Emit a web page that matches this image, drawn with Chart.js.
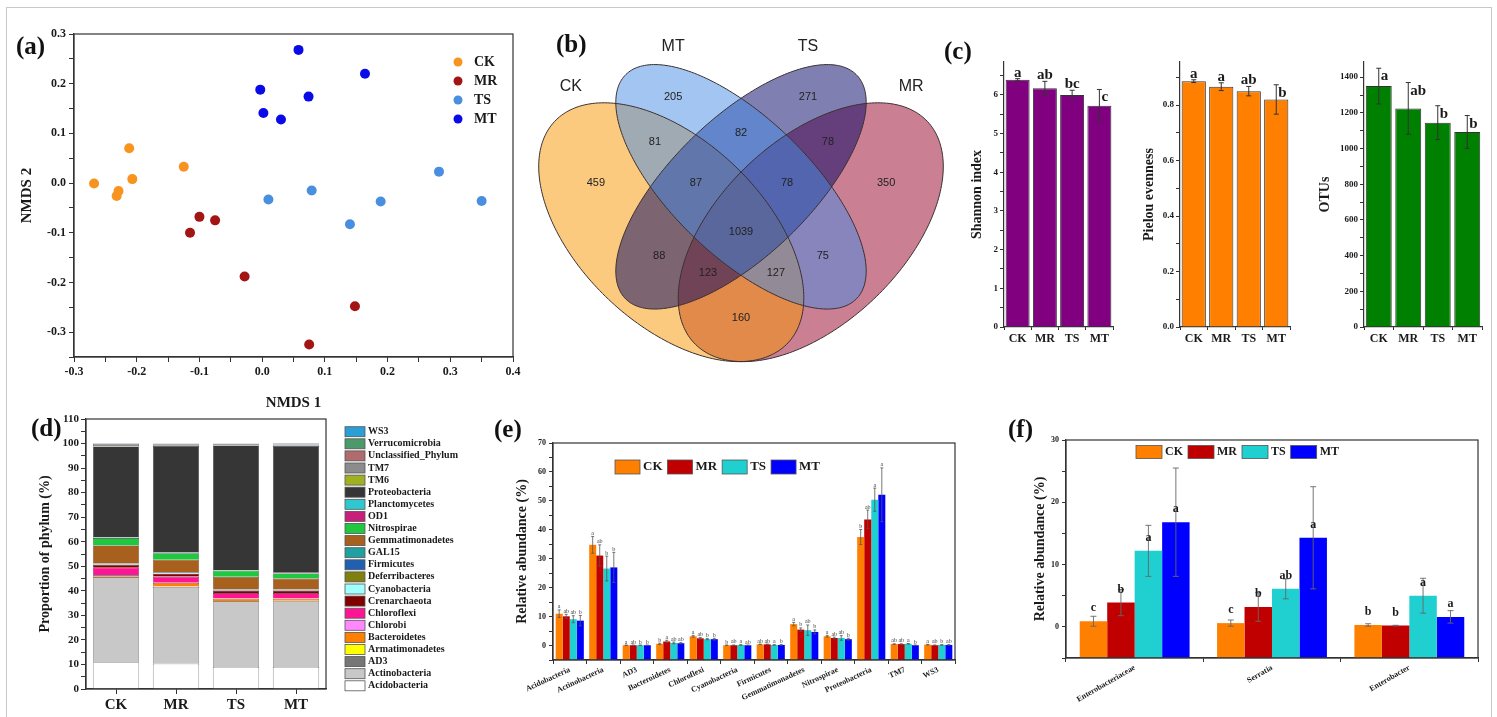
<!DOCTYPE html>
<html>
<head>
<meta charset="utf-8">
<title>Bacterial community figure</title>
<script src="https://cdn.jsdelivr.net/npm/chart.js@4.4.1/dist/chart.umd.min.js"></script>
<style>
  body { margin: 0; background: #fff; }
  #page { position: relative; width: 1497px; height: 717px; overflow: hidden; background: #fff; }
  #page canvas { position: absolute; }
  .tag { position: absolute; font: bold 25px "Liberation Serif", serif; color: #111; line-height: 1; }
  #border { position: absolute; left: 6px; top: 7px; width: 1484px; height: 720px; border: 1px solid #c8c8c8; }
</style>
</head>
<body>
<div id="page">
  <div id="border"></div>
  <canvas id="nmds" width="520" height="400" style="left:10px;top:20px"></canvas>
  <canvas id="venn" width="440" height="355" style="left:520px;top:25px"></canvas>
  <canvas id="shannon" width="160" height="310" style="left:960px;top:40px"></canvas>
  <canvas id="pielou" width="170" height="310" style="left:1130px;top:40px"></canvas>
  <canvas id="otus" width="180" height="310" style="left:1310px;top:40px"></canvas>
  <canvas id="phylum" width="440" height="305" style="left:30px;top:405px"></canvas>
  <canvas id="abund" width="460" height="280" style="left:505px;top:430px"></canvas>
  <canvas id="genus" width="465" height="280" style="left:1020px;top:430px"></canvas>
  <div class="tag" style="left:16px;top:33px">(a)</div>
  <div class="tag" style="left:556px;top:31px">(b)</div>
  <div class="tag" style="left:944px;top:38px">(c)</div>
  <div class="tag" style="left:31px;top:415px">(d)</div>
  <div class="tag" style="left:494px;top:416px">(e)</div>
  <div class="tag" style="left:1008px;top:416px">(f)</div>
</div>

<script>
// ---------- data ----------
var groups = ['CK', 'MR', 'TS', 'MT'];
var groupColors = ['#FF8000', '#C00000', '#20D0D0', '#0000FF'];

// (a) NMDS ordination
var ckX = [-0.268, -0.232, -0.229, -0.212, -0.207, -0.125];
var ckY = [-0.001, -0.026, -0.016, 0.070, 0.008, 0.033];
var mrX = [-0.115, -0.100, -0.075, -0.028, 0.148, 0.075];
var mrY = [-0.100, -0.068, -0.075, -0.188, -0.248, -0.325];
var tsX = [0.010, 0.079, 0.140, 0.189, 0.282, 0.350];
var tsY = [-0.033, -0.015, -0.083, -0.037, 0.023, -0.036];
var mtX = [-0.003, 0.002, 0.030, 0.058, 0.074, 0.164];
var mtY = [0.188, 0.141, 0.128, 0.268, 0.174, 0.220];

// (b) Venn diagram of OTUs
var vennSets = ['CK', 'MT', 'TS', 'MR'];
var vennCounts = [205, 271, 81, 82, 78, 459, 87, 78, 350, 1039, 88, 75, 123, 127, 160];

// (c) alpha diversity
var shannon = [6.39, 6.17, 6.00, 5.72];
var shannonErr = [0.03, 0.18, 0.12, 0.42];
var shannonLet = ['a', 'ab', 'bc', 'c'];
var pielou = [0.886, 0.866, 0.850, 0.820];
var pielouErr = [0.005, 0.014, 0.017, 0.053];
var pielouLet = ['a', 'a', 'ab', 'b'];
var otus = [1350, 1225, 1145, 1093];
var otusErr = [100, 145, 95, 92];
var otusLet = ['a', 'ab', 'b', 'b'];

// (d) phylum composition (%)
var phylumNames = ['Acidobacteria', 'Actinobacteria', 'AD3', 'Armatimonadetes', 'Bacteroidetes', 'Chlorobi',
  'Chloroflexi', 'Crenarchaeota', 'Cyanobacteria', 'Deferribacteres', 'Firmicutes', 'GAL15',
  'Gemmatimonadetes', 'Nitrospirae', 'OD1', 'Planctomycetes', 'Proteobacteria', 'TM6', 'TM7',
  'Unclassified_Phylum', 'Verrucomicrobia', 'WS3'];
var phylumCK = [10.8, 34.7, 0.1, 0.1, 0.6, 0.1, 3.0, 1.2, 0.1, 0.1, 0.3, 0.1, 7.3, 3.0, 0.1, 0.2, 37.0, 0.1, 0.5, 0.3, 0.1, 0.2];
var phylumMR = [10.3, 31.3, 0.1, 0.1, 1.4, 0.1, 2.5, 1.2, 0.1, 0.1, 0.4, 0.1, 5.0, 2.6, 0.1, 0.2, 43.4, 0.1, 0.5, 0.2, 0.1, 0.1];
var phylumTS = [9.0, 26.7, 0.1, 0.1, 0.9, 0.1, 2.2, 1.0, 0.2, 0.1, 0.2, 0.1, 5.0, 2.5, 0.1, 0.2, 50.7, 0.1, 0.4, 0.1, 0.1, 0.1];
var phylumMT = [9.0, 26.8, 0.1, 0.1, 0.8, 0.1, 2.2, 1.0, 0.1, 0.1, 0.2, 0.1, 4.4, 2.1, 0.1, 0.2, 51.6, 0.1, 0.1, 0.3, 0.1, 0.4];
var phylumColors = ['#FFFFFF', '#C8C8C8', '#767676', '#FFFF00', '#FF8000', '#FF88FF',
  '#FF1493', '#800000', '#A0FFFF', '#808010', '#2060B0', '#20A0A0',
  '#A8601E', '#20C840', '#C8207A', '#30C8D0', '#363636', '#A0B020', '#8C8C8C',
  '#B06C6C', '#4C9A6A', '#2A9FD6'];

// (e) dominant phyla, relative abundance (%)
var phyla = ['Acidobacteria', 'Actinobacteria', 'AD3', 'Bacteroidetes', 'Chloroflexi', 'Cyanobacteria',
  'Firmicutes', 'Gemmatimonadetes', 'Nitrospirae', 'Proteobacteria', 'TM7', 'WS3'];
var ckAbund = [11.0, 34.8, 0.1, 0.6, 3.2, 0.1, 0.4, 7.4, 3.2, 37.5, 0.5, 0.3];
var mrAbund = [10.1, 31.1, 0.1, 1.4, 2.5, 0.1, 0.4, 5.5, 2.6, 43.6, 0.5, 0.1];
var tsAbund = [9.1, 26.6, 0.1, 0.9, 2.2, 0.2, 0.2, 5.3, 2.6, 50.4, 0.6, 0.2];
var mtAbund = [8.6, 27.0, 0.1, 0.8, 2.2, 0.1, 0.2, 4.7, 2.2, 52.1, 0.1, 0.2];
var ckAbundErr = [1.3, 2.9, 0.05, 0.2, 0.3, 0.05, 0.1, 0.6, 0.3, 2.6, 0.1, 0.1];
var mrAbundErr = [0.7, 3.7, 0.05, 0.4, 0.3, 0.1, 0.1, 0.6, 0.3, 3.2, 0.1, 0.1];
var tsAbundErr = [1.2, 4.3, 0.05, 0.3, 0.2, 0.1, 0.1, 1.8, 0.8, 4.0, 0.1, 0.1];
var mtAbundErr = [1.8, 5.2, 0.05, 0.2, 0.3, 0.05, 0.1, 0.7, 0.3, 9.3, 0.05, 0.1];
var ckAbundLet = ['a', 'a', 'a', 'b', 'a', 'b', 'ab', 'a', 'a', 'b', 'ab', 'a'];
var mrAbundLet = ['ab', 'ab', 'ab', 'a', 'ab', 'ab', 'ab', 'b', 'ab', 'ab', 'ab', 'ab'];
var tsAbundLet = ['ab', 'b', 'b', 'ab', 'b', 'a', 'a', 'ab', 'ab', 'a', 'a', 'b'];
var mtAbundLet = ['b', 'b', 'b', 'ab', 'b', 'ab', 'b', 'b', 'b', 'a', 'b', 'ab'];

// (f) genera, relative abundance (%)
var genera = ['Enterobacteriaceae', 'Serratia', 'Enterobacter'];
var ckGen = [0.9, 0.6, 0.3];
var mrGen = [3.9, 3.2, 0.2];
var tsGen = [12.2, 6.1, 5.0];
var mtGen = [16.8, 14.3, 1.6];
var ckGenErr = [0.8, 0.5, 0.2];
var mrGenErr = [2.1, 2.3, 0.05];
var tsGenErr = [4.1, 1.6, 2.8];
var mtGenErr = [8.7, 8.2, 1.0];
var ckGenLet = ['c', 'c', 'b'];
var mrGenLet = ['b', 'b', 'b'];
var tsGenLet = ['a', 'ab', 'a'];
var mtGenLet = ['a', 'a', 'a'];

// ---------- venn layout (unit square, y up) ----------
var vennShapes = [
  { cx: 0.65, cy: 0.47, a: 0.35, b: 0.20, rot: 45,  fill: 'rgba(150,0,40,0.5)' },   // MR
  { cx: 0.35, cy: 0.47, a: 0.35, b: 0.20, rot: 135, fill: 'rgba(250,150,0,0.5)' },  // CK
  { cx: 0.50, cy: 0.57, a: 0.35, b: 0.15, rot: 45,  fill: 'rgba(0,0,100,0.5)' },    // TS
  { cx: 0.50, cy: 0.57, a: 0.35, b: 0.15, rot: 135, fill: 'rgba(70,140,230,0.5)' }  // MT
];
var vennSpots = [[0.354, 0.768], [0.644, 0.768], [0.315, 0.668], [0.5, 0.688], [0.687, 0.668],
  [0.188, 0.578], [0.403, 0.578], [0.599, 0.578], [0.812, 0.578], [0.5, 0.470],
  [0.324, 0.417], [0.676, 0.417], [0.429, 0.380], [0.575, 0.380], [0.5, 0.281]];
var vennSetSpots = [[0.134, 0.790], [0.354, 0.878], [0.644, 0.878], [0.866, 0.790]];

// ---------- chart defaults ----------
var serif = '"Liberation Serif", "Times New Roman", serif';
Chart.defaults.font.family = serif;
Chart.defaults.font.weight = 'bold';
Chart.defaults.color = '#1a1a1a';
Chart.defaults.animation = false;
Chart.defaults.events = [];
Chart.defaults.plugins.legend.display = false;
Chart.defaults.plugins.tooltip.enabled = false;

// box round the plot area (Origin style)
var framePlugin = {
  id: 'frame',
  afterDraw: function (chart, args, o) {
    if (!o.show) return;
    var a = chart.chartArea, c = chart.ctx;
    c.save();
    c.strokeStyle = '#333';
    c.lineWidth = 1.2;
    c.strokeRect(a.left, a.top, a.right - a.left, a.bottom - a.top);
    c.restore();
  }
};

// legend drawn inside / beside the plot
var keyPlugin = {
  id: 'key',
  afterDraw: function (chart, args, o) {
    if (!o.show) return;
    var c = chart.ctx, a = chart.chartArea;
    var sets = chart.data.datasets.slice();
    if (o.reverse) sets.reverse();
    var x = a.left + o.x, y = a.top + o.y;
    c.save();
    c.font = o.font;
    c.textBaseline = 'middle';
    c.textAlign = 'left';
    sets.forEach(function (ds) {
      if (o.style === 'dot') {
        c.beginPath();
        c.arc(x, y, o.r, 0, Math.PI * 2);
        c.fillStyle = ds.backgroundColor;
        c.fill();
        c.fillStyle = '#1a1a1a';
        c.fillText(ds.label, x + o.gap, y);
        y += o.step;
      } else {
        c.fillStyle = ds.backgroundColor;
        c.fillRect(x, y - o.h / 2, o.w, o.h);
        c.strokeStyle = '#555';
        c.lineWidth = 0.8;
        c.strokeRect(x, y - o.h / 2, o.w, o.h);
        c.fillStyle = '#1a1a1a';
        c.fillText(ds.label, x + o.w + o.gap, y);
        if (o.vertical) y += o.step;
        else x += o.w + o.gap + c.measureText(ds.label).width + o.space;
      }
    });
    c.restore();
  }
};

// error bars and significance letters
var errPlugin = {
  id: 'errs',
  afterDatasetsDraw: function (chart, args, o) {
    if (!o.show) return;
    var c = chart.ctx, ys = chart.scales.y;
    c.save();
    chart.data.datasets.forEach(function (ds, di) {
      if (!ds.errors) return;
      var meta = chart.getDatasetMeta(di);
      meta.data.forEach(function (bar, i) {
        var v = ds.data[i], e = ds.errors[i];
        var top = ys.getPixelForValue(v + e), bot = ys.getPixelForValue(v - e);
        var barTop = ys.getPixelForValue(v);
        c.strokeStyle = o.color;
        c.lineWidth = o.width;
        c.beginPath();
        c.moveTo(bar.x, top); c.lineTo(bar.x, bot);
        c.moveTo(bar.x - o.cap, top); c.lineTo(bar.x + o.cap, top);
        c.moveTo(bar.x - o.cap, bot); c.lineTo(bar.x + o.cap, bot);
        c.stroke();
        if (!ds.letters) return;
        c.font = o.font;
        c.fillStyle = o.letterColor || '#1a1a1a';
        c.textBaseline = 'alphabetic';
        if (o.from === 'bar') {
          c.textAlign = 'center';
          c.fillText(ds.letters[i], bar.x, barTop - o.dy);
        } else if (o.side && barTop - top > 12) {
          c.textAlign = 'left';
          c.fillText(ds.letters[i], bar.x + 2, top + 12);
        } else {
          c.textAlign = 'center';
          c.fillText(ds.letters[i], bar.x, top - o.dy);
        }
      });
    });
    c.restore();
  }
};

// ellipses of the venn diagram and the counts
var vennPlugin = {
  id: 'venn',
  beforeDatasetsDraw: function (chart, args, o) {
    if (!o.shapes) return;
    var c = chart.ctx, xs = chart.scales.x, ys = chart.scales.y;
    function path(e) {
      var r = e.rot * Math.PI / 180;
      c.beginPath();
      for (var k = 0; k <= 240; k++) {
        var t = k / 240 * Math.PI * 2;
        var ux = e.cx + e.a * Math.cos(t) * Math.cos(r) - e.b * Math.sin(t) * Math.sin(r);
        var uy = e.cy + e.a * Math.cos(t) * Math.sin(r) + e.b * Math.sin(t) * Math.cos(r);
        var px = xs.getPixelForValue(ux), py = ys.getPixelForValue(uy);
        if (k === 0) c.moveTo(px, py); else c.lineTo(px, py);
      }
      c.closePath();
    }
    c.save();
    o.shapes.forEach(function (e) { path(e); c.fillStyle = e.fill; c.fill(); });
    c.strokeStyle = '#3a3030';
    c.lineWidth = 1;
    o.shapes.forEach(function (e) { path(e); c.stroke(); });
    c.restore();
  },
  afterDatasetsDraw: function (chart, args, o) {
    if (!o.shapes) return;
    var c = chart.ctx;
    c.save();
    c.textAlign = 'center';
    c.textBaseline = 'middle';
    c.fillStyle = '#222';
    chart.data.datasets.forEach(function (ds, di) {
      c.font = ds.textFont;
      chart.getDatasetMeta(di).data.forEach(function (pt, i) {
        c.fillText(String(ds.texts[i]), pt.x, pt.y);
      });
    });
    c.restore();
  }
};

Chart.register(framePlugin, keyPlugin, errPlugin, vennPlugin);

function sideAxis(space, size, min, max, step, labelFn, title, titleSize, titlePad, tickLen, tickPad) {
  return {
    type: 'linear', position: 'left', min: min, max: max,
    grid: { drawOnChartArea: false, tickLength: tickLen, color: '#333', tickColor: '#333' },
    border: { display: true, color: '#333', width: 1.2 },
    ticks: { stepSize: step, includeBounds: false, autoSkip: false, font: { size: size }, padding: tickPad, callback: labelFn },
    title: { display: !!title, text: title, font: { size: titleSize }, padding: { top: titlePad, bottom: 0 } },
    afterFit: function (s) { s.width = space; }
  };
}

function multipleOf(step, digits) {
  return function (v) {
    var k = v / step;
    return Math.abs(k - Math.round(k)) < 1e-6 && v >= -1e-9 ? v.toFixed(digits) : '';
  };
}

// ---------- (a) NMDS ----------
function pts(xs, ys) { return xs.map(function (x, i) { return { x: x, y: ys[i] }; }); }
new Chart(document.getElementById('nmds'), {
  type: 'scatter',
  data: {
    datasets: [
      { label: 'CK', data: pts(ckX, ckY), backgroundColor: '#F7931E' },
      { label: 'MR', data: pts(mrX, mrY), backgroundColor: '#A31515' },
      { label: 'TS', data: pts(tsX, tsY), backgroundColor: '#4A8FDF' },
      { label: 'MT', data: pts(mtX, mtY), backgroundColor: '#0A0AE8' }
    ]
  },
  options: {
    responsive: false,
    elements: { point: { radius: 5, borderWidth: 0 } },
    layout: { padding: { top: 14, right: 17, left: 0, bottom: 0 } },
    scales: {
      x: {
        type: 'linear', min: -0.3, max: 0.4,
        grid: { drawOnChartArea: false, tickLength: 5, color: '#333', tickColor: '#333' },
        border: { display: true, color: '#333', width: 1.2 },
        ticks: {
          stepSize: 0.05, autoSkip: false, font: { size: 12 }, padding: 3, maxRotation: 0,
          callback: function (v) { var k = v * 10; return Math.abs(k - Math.round(k)) < 1e-6 ? v.toFixed(1) : ''; }
        },
        title: { display: true, text: 'NMDS 1', font: { size: 15 }, padding: { top: 4, bottom: 8 } },
        afterFit: function (s) { s.height = 63; }
      },
      y: sideAxis(64, 12, -0.35, 0.3, 0.05, function (v) {
        var k = v * 10; return Math.abs(k - Math.round(k)) < 1e-6 ? v.toFixed(1) : '';
      }, 'NMDS 2', 15, 8, 5, 3)
    },
    plugins: {
      frame: { show: true },
      key: { show: true, style: 'dot', x: 384, y: 28, step: 19, r: 4.5, gap: 16, font: 'bold 14px ' + serif }
    }
  }
});

// ---------- (b) Venn ----------
new Chart(document.getElementById('venn'), {
  type: 'scatter',
  data: {
    datasets: [
      { data: vennSpots.map(function (p) { return { x: p[0], y: p[1] }; }), texts: vennCounts,
        textFont: '11px "Liberation Sans", Arial, sans-serif', pointRadius: 0 },
      { data: vennSetSpots.map(function (p) { return { x: p[0], y: p[1] }; }), texts: vennSets,
        textFont: '16px "Liberation Sans", Arial, sans-serif', pointRadius: 0 }
    ]
  },
  options: {
    responsive: false,
    layout: { padding: 0 },
    scales: {
      x: { type: 'linear', display: false, min: 0.0247, max: 0.971 },
      y: { type: 'linear', display: false, min: 0.1445, max: 0.9264 }
    },
    plugins: { venn: { shapes: vennShapes } }
  }
});

// ---------- (c) alpha diversity ----------
function indexChart(id, values, errs, letters, color, yAxis, padRight) {
  new Chart(document.getElementById(id), {
    type: 'bar',
    data: {
      labels: groups,
      datasets: [{ data: values, errors: errs, letters: letters, backgroundColor: color,
        borderColor: '#333', borderWidth: 1, barPercentage: 0.88, categoryPercentage: 1 }]
    },
    options: {
      responsive: false,
      layout: { padding: { top: 22, right: padRight, left: 0, bottom: 0 } },
      scales: {
        x: {
          grid: { drawOnChartArea: false, tickLength: 3, color: '#333', tickColor: '#333' },
          border: { display: true, color: '#333', width: 1.2 },
          ticks: { font: { size: 12 }, padding: 2, maxRotation: 0 },
          afterFit: function (s) { s.height = 23; }
        },
        y: yAxis
      },
      plugins: {
        errs: { show: true, color: '#333', width: 1, cap: 2.5, font: 'bold 15px ' + serif, dy: 2, side: true }
      }
    }
  });
}
indexChart('shannon', shannon, shannonErr, shannonLet, '#800080',
  sideAxis(44, 9, 0, 6.85, 0.5, multipleOf(1, 0), 'Shannon index', 14, 8.6, 4, 2), 7);
indexChart('pielou', pielou, pielouErr, pielouLet, '#FF8000',
  sideAxis(50, 9, 0, 0.955, 0.1, multipleOf(0.2, 1), 'Pielou evenness', 14, 10.6, 4, 2), 10);
indexChart('otus', otus, otusErr, otusLet, '#008000',
  sideAxis(54, 9, 0, 1485, 100, multipleOf(200, 0), 'OTUs', 14, 6.6, 4, 2), 8);

// ---------- (d) phylum composition ----------
var groupData = [phylumCK, phylumMR, phylumTS, phylumMT];
new Chart(document.getElementById('phylum'), {
  type: 'bar',
  data: {
    labels: groups,
    datasets: phylumNames.map(function (name, i) {
      return {
        label: name,
        data: groupData.map(function (g) { return g[i]; }),
        backgroundColor: phylumColors[i],
        borderColor: '#333', borderWidth: 0.6,
        barPercentage: 1, categoryPercentage: 0.77
      };
    })
  },
  options: {
    responsive: false,
    layout: { padding: { top: 14, right: 144, left: 0, bottom: 0 } },
    scales: {
      x: {
        stacked: true,
        grid: { drawOnChartArea: false, offset: false, tickLength: 5, color: '#333', tickColor: '#333' },
        border: { display: true, color: '#333', width: 1.2 },
        ticks: { font: { size: 15 }, padding: 2, maxRotation: 0 },
        afterFit: function (s) { s.height = 21; }
      },
      y: Object.assign(sideAxis(56, 11, 0, 110, 5, multipleOf(10, 0), 'Proportion of phylum (%)', 14, 6.6, 5, 2),
        { stacked: true })
    },
    plugins: {
      frame: { show: true },
      key: { show: true, style: 'box', vertical: true, reverse: true, x: 259, y: 12.7, step: 12.1,
        w: 20, h: 10, gap: 3, font: 'bold 10px ' + serif }
    }
  }
});

// ---------- (e) dominant phyla ----------
// bars start from the bottom of the axis (-5), as in the original plot
function groupSet(label, color, data, errs, letters, pct) {
  return { label: label, data: data, errors: errs, letters: letters, backgroundColor: color,
    borderWidth: 0, barPercentage: 1, categoryPercentage: pct, base: -5 };
}
new Chart(document.getElementById('abund'), {
  type: 'bar',
  data: {
    labels: phyla,
    datasets: [
      groupSet('CK', groupColors[0], ckAbund, ckAbundErr, ckAbundLet, 0.84),
      groupSet('MR', groupColors[1], mrAbund, mrAbundErr, mrAbundLet, 0.84),
      groupSet('TS', groupColors[2], tsAbund, tsAbundErr, tsAbundLet, 0.84),
      groupSet('MT', groupColors[3], mtAbund, mtAbundErr, mtAbundLet, 0.84)
    ]
  },
  options: {
    responsive: false,
    layout: { padding: { top: 13, right: 10, left: 0, bottom: 0 } },
    scales: {
      x: {
        grid: { drawOnChartArea: false, tickLength: 4, color: '#333', tickColor: '#333' },
        border: { display: true, color: '#333', width: 1.2 },
        ticks: { font: { size: 8 }, padding: 1, autoSkip: false, minRotation: 25, maxRotation: 25 },
        afterFit: function (s) { s.height = 50; }
      },
      y: sideAxis(48, 8, -5, 70, 5, multipleOf(10, 0), 'Relative abundance (%)', 14, 8.6, 4, 3)
    },
    plugins: {
      frame: { show: true },
      errs: { show: true, color: '#555', width: 0.8, cap: 1.5, font: '6px ' + serif, dy: 1.5, letterColor: '#444' },
      key: { show: true, style: 'box', x: 62, y: 24, w: 25, h: 14, gap: 3, space: 5, font: 'bold 13px ' + serif }
    }
  }
});

// ---------- (f) genera ----------
new Chart(document.getElementById('genus'), {
  type: 'bar',
  data: {
    labels: genera,
    datasets: [
      groupSet('CK', groupColors[0], ckGen, ckGenErr, ckGenLet, 0.8),
      groupSet('MR', groupColors[1], mrGen, mrGenErr, mrGenLet, 0.8),
      groupSet('TS', groupColors[2], tsGen, tsGenErr, tsGenLet, 0.8),
      groupSet('MT', groupColors[3], mtGen, mtGenErr, mtGenLet, 0.8)
    ]
  },
  options: {
    responsive: false,
    layout: { padding: { top: 10, right: 7, left: 0, bottom: 0 } },
    scales: {
      x: {
        grid: { drawOnChartArea: false, tickLength: 4, color: '#333', tickColor: '#333' },
        border: { display: true, color: '#333', width: 1.2 },
        ticks: { font: { size: 8 }, padding: 1, autoSkip: false, minRotation: 30, maxRotation: 30 },
        afterFit: function (s) { s.height = 52; }
      },
      y: sideAxis(46, 8, -5, 30, 5, multipleOf(10, 0), 'Relative abundance (%)', 14, 11.6, 4, 3)
    },
    plugins: {
      frame: { show: true },
      errs: { show: true, color: '#666', width: 0.9, cap: 3, font: 'bold 12px ' + serif, dy: 10, from: 'bar' },
      key: { show: true, style: 'box', x: 70, y: 12, w: 26, h: 13, gap: 3, space: 5, font: 'bold 12px ' + serif }
    }
  }
});
</script>
</body>
</html>
